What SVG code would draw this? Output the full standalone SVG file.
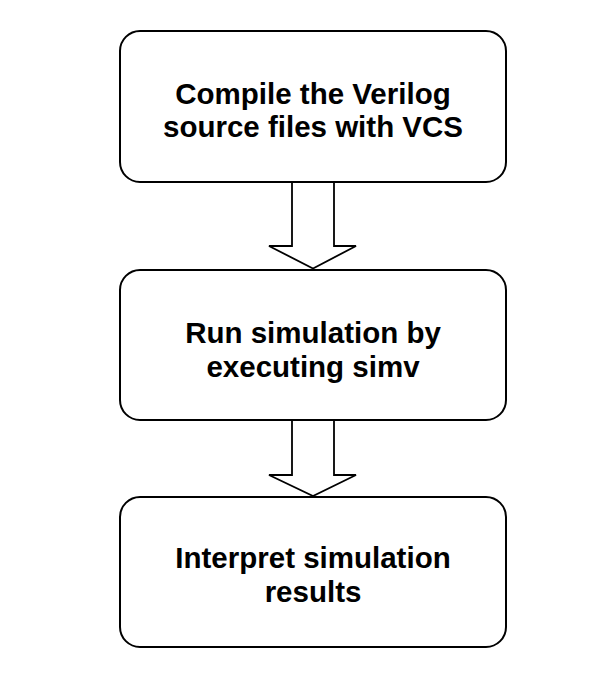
<svg xmlns="http://www.w3.org/2000/svg" width="600" height="674" viewBox="0 0 600 674">
<style>
.box{fill:#fff;stroke:#000;stroke-width:2}
.arr{fill:#fff;stroke:#000;stroke-width:1.8;stroke-linejoin:miter}
.t{font-family:"Liberation Sans",Arial,sans-serif;font-weight:bold;font-size:29.5px;text-anchor:middle;fill:#000}
</style>
<rect width="600" height="674" fill="#fff"/>
<g id="connectors">
<path class="arr" d="M292,182 V246 H269 L313,268.5 L356,246 H334 V182"/>
<path class="arr" d="M292,420 V475 H269 L313,496 L356,475 H334 V420"/>
</g>
<g id="node1">
<rect class="box" x="120" y="31" width="386" height="151" rx="20"/>
<text class="t" x="313" y="103.5">Compile the Verilog</text>
<text class="t" x="313" y="137">source files with VCS</text>
</g>
<g id="node2">
<rect class="box" x="120" y="270" width="386" height="150" rx="20"/>
<text class="t" x="313" y="343">Run simulation by</text>
<text class="t" x="313" y="377">executing simv</text>
</g>
<g id="node3">
<rect class="box" x="120" y="497" width="386" height="150" rx="20"/>
<text class="t" x="313" y="568">Interpret simulation</text>
<text class="t" x="313" y="602">results</text>
</g>
</svg>
